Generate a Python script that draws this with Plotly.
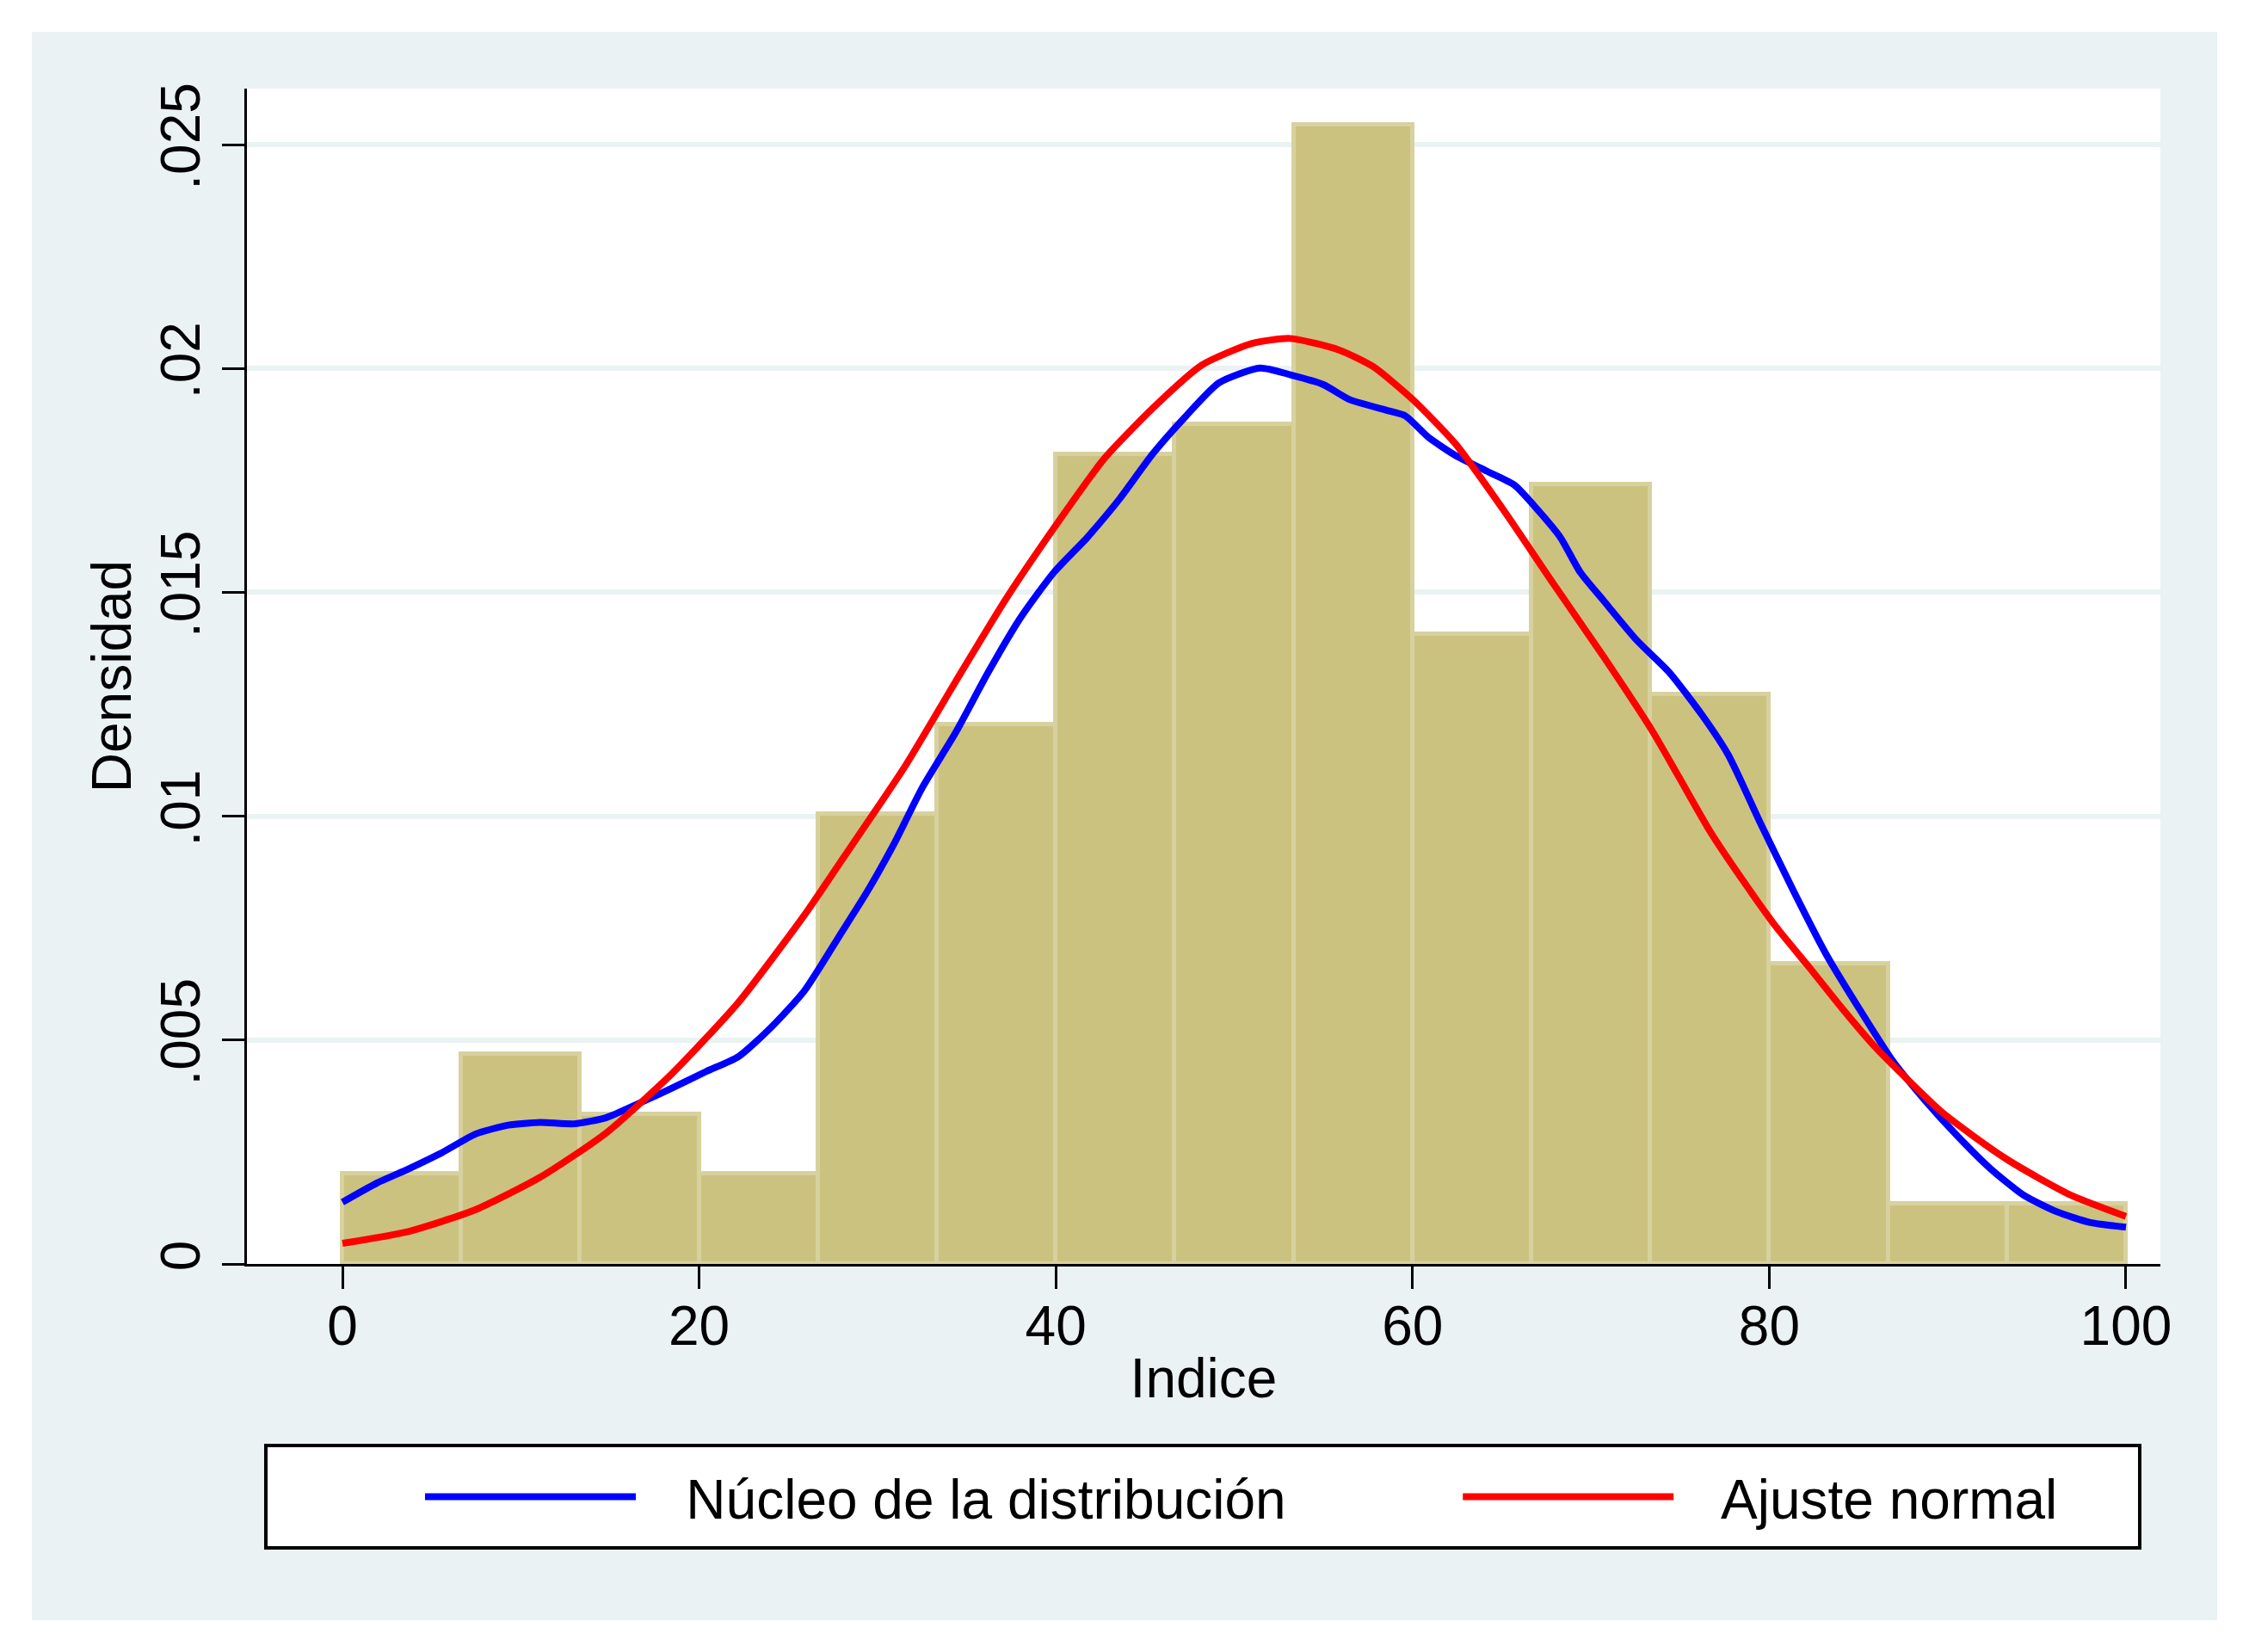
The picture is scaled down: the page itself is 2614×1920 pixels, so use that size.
import plotly.graph_objects as go

# ---------------- data ----------------
bin_edges = [0, 6.6667, 13.3333, 20, 26.6667, 33.3333, 40, 46.6667, 53.3333,
             60, 66.6667, 73.3333, 80, 86.6667, 93.3333, 100]
bin_density = [0.00201, 0.00469, 0.00335, 0.00201, 0.01005, 0.01205, 0.01808,
               0.01875, 0.02545, 0.01406, 0.01741, 0.01272, 0.00670, 0.00134, 0.00134]

kernel_x = [0, 1.9, 3.75, 5.6, 7.45, 9.3, 11.1, 13.0, 14.8, 16.7, 18.5, 20.4, 22.2,
            24.05, 25.9, 27.9, 29.4, 30.95, 32.5, 34.4, 36.2, 38.05, 39.9, 41.75, 42.7,
            43.6, 45.45, 47.3, 49.15, 51.45, 53.15, 55.0, 56.5, 58.7, 59.6, 60.9, 62.4,
            64.25, 65.7, 67.0, 68.3, 69.4, 70.7, 72.55, 74.4, 76.25, 77.7, 79.5, 81.3,
            83.2, 85.0, 86.9, 88.7, 90.55, 92.4, 94.25, 96.1, 97.95, 100]
kernel_y = [0.00138, 0.00180, 0.00213, 0.00249, 0.00290, 0.00310, 0.00316, 0.00313,
            0.00327, 0.00360, 0.00393, 0.00430, 0.00463, 0.00529, 0.00610, 0.00735,
            0.00830, 0.00940, 0.01063, 0.01188, 0.01321, 0.01445, 0.01545, 0.01622,
            0.01666, 0.01710, 0.01810, 0.01894, 0.01968, 0.02001, 0.01986, 0.01964,
            0.01930, 0.01905, 0.01894, 0.01846, 0.01806, 0.01769, 0.01740, 0.01685,
            0.01622, 0.01545, 0.01482, 0.01394, 0.01321, 0.01225, 0.01137, 0.00985,
            0.00838, 0.00691, 0.00573, 0.00455, 0.00367, 0.00286, 0.00213, 0.00154,
            0.00117, 0.00093, 0.00082]

normal_x = [0, 3.75, 7.45, 11.1, 14.8, 18.5, 22.2, 25.9, 27.9, 31.6, 34.4, 37.15, 39.9,
            42.7, 45.45, 48.2, 51.0, 53.15, 55.9, 57.8, 60.0, 62.4, 65.15, 67.9, 70.7,
            73.45, 74.9, 76.7, 78.55, 80.4, 82.25, 84.1, 85.95, 87.8, 89.65, 91.5,
            93.35, 95.2, 97.0, 100]
normal_y = [0.00046, 0.00073, 0.00121, 0.00194, 0.00293, 0.00426, 0.00584, 0.00779,
            0.00896, 0.01115, 0.01302, 0.01482, 0.01644, 0.01798, 0.01912, 0.02008,
            0.02056, 0.02067, 0.02041, 0.02004, 0.01931, 0.01832, 0.01681, 0.01519,
            0.01357, 0.01190, 0.01090, 0.00965, 0.00855, 0.00752, 0.00662, 0.00570,
            0.00484, 0.00410, 0.00340, 0.00284, 0.00233, 0.00190, 0.00152, 0.00106]

x_ticks = [0, 20, 40, 60, 80, 100]
y_ticks = [0, 0.005, 0.01, 0.015, 0.02, 0.025]
y_tick_labels = ["0", ".005", ".01", ".015", ".02", ".025"]

series_names = ["Núcleo de la distribución", "Ajuste normal"]
x_title = "Indice"
y_title = "Densidad"

# ---------------- style / layout ----------------
W, H = 2614, 1920
PL, PR, PT, PB = 287, 2511, 103, 1469  # plot area in px
FONT = "Liberation Sans, Arial, Helvetica, sans-serif"
BG = "#EAF2F3"


def px_x(X):
    return (X - PL) / (PR - PL)


def px_y(Y):
    return (PB - Y) / (PB - PT)


bar_x = [(bin_edges[i] + bin_edges[i + 1]) / 2 for i in range(len(bin_density))]
bar_w = [bin_edges[i + 1] - bin_edges[i] for i in range(len(bin_density))]

fig = go.Figure()
fig.add_trace(go.Bar(
    x=bar_x, y=bin_density, width=bar_w,
    marker=dict(color="#CCC27F", line=dict(color="#D7D19F", width=5)),
    showlegend=False, hoverinfo="skip",
))
fig.add_trace(go.Scatter(
    x=kernel_x, y=kernel_y, mode="lines", name="   " + series_names[0] + " " * 11,
    line=dict(color="#0000FF", width=8, shape="spline", smoothing=0.6),
))
fig.add_trace(go.Scatter(
    x=normal_x, y=normal_y, mode="lines", name="   " + series_names[1],
    line=dict(color="#FF0000", width=8, shape="spline", smoothing=0.6),
))

shapes = [
    # white outer frame around the light graph region
    dict(type="rect", xref="paper", yref="paper",
         x0=px_x(0), x1=px_x(W), y0=px_y(H), y1=px_y(0),
         line=dict(color="white", width=74), fillcolor="rgba(0,0,0,0)", layer="below"),
    # legend box
    dict(type="rect", xref="paper", yref="paper",
         x0=px_x(309), x1=px_x(2487), y0=px_y(1799), y1=px_y(1680),
         line=dict(color="black", width=4), fillcolor="white", layer="above"),
]

fig.update_layout(
    width=W, height=H,
    margin=dict(l=PL, r=W - PR, t=PT, b=H - PB, pad=0, autoexpand=False),
    paper_bgcolor=BG, plot_bgcolor="white",
    font=dict(family=FONT, size=64, color="black"),
    bargap=0,
    shapes=shapes,
    showlegend=True,
    legend=dict(orientation="h", x=px_x(489), xanchor="left", y=px_y(1740), yanchor="middle",
                bgcolor="rgba(0,0,0,0)", borderwidth=0, font=dict(family=FONT, size=64),
                itemwidth=245, itemclick=False),
    xaxis=dict(range=[-5.355, 101.93], tickvals=x_ticks, ticks="outside", ticklen=26,
               tickwidth=3, tickcolor="black", showline=True, linewidth=3, linecolor="black",
               showgrid=False, zeroline=False, tickfont=dict(family=FONT, size=64),
               ticklabelstandoff=-12,
               title=dict(text=x_title, font=dict(family=FONT, size=64), standoff=4)),
    yaxis=dict(range=[0, 0.02625], tickvals=y_ticks, ticktext=y_tick_labels, tickangle=-90,
               ticks="outside", ticklen=26, tickwidth=3, tickcolor="black", showline=True,
               linewidth=3, linecolor="black", showgrid=True, gridcolor=BG, gridwidth=6,
               zeroline=False, tickfont=dict(family=FONT, size=64),
               title=dict(text=y_title, font=dict(family=FONT, size=64), standoff=2)),
)

fig.write_html("out.html", config={"displayModeBar": False},
               post_script="document.body.style.margin='0';")
